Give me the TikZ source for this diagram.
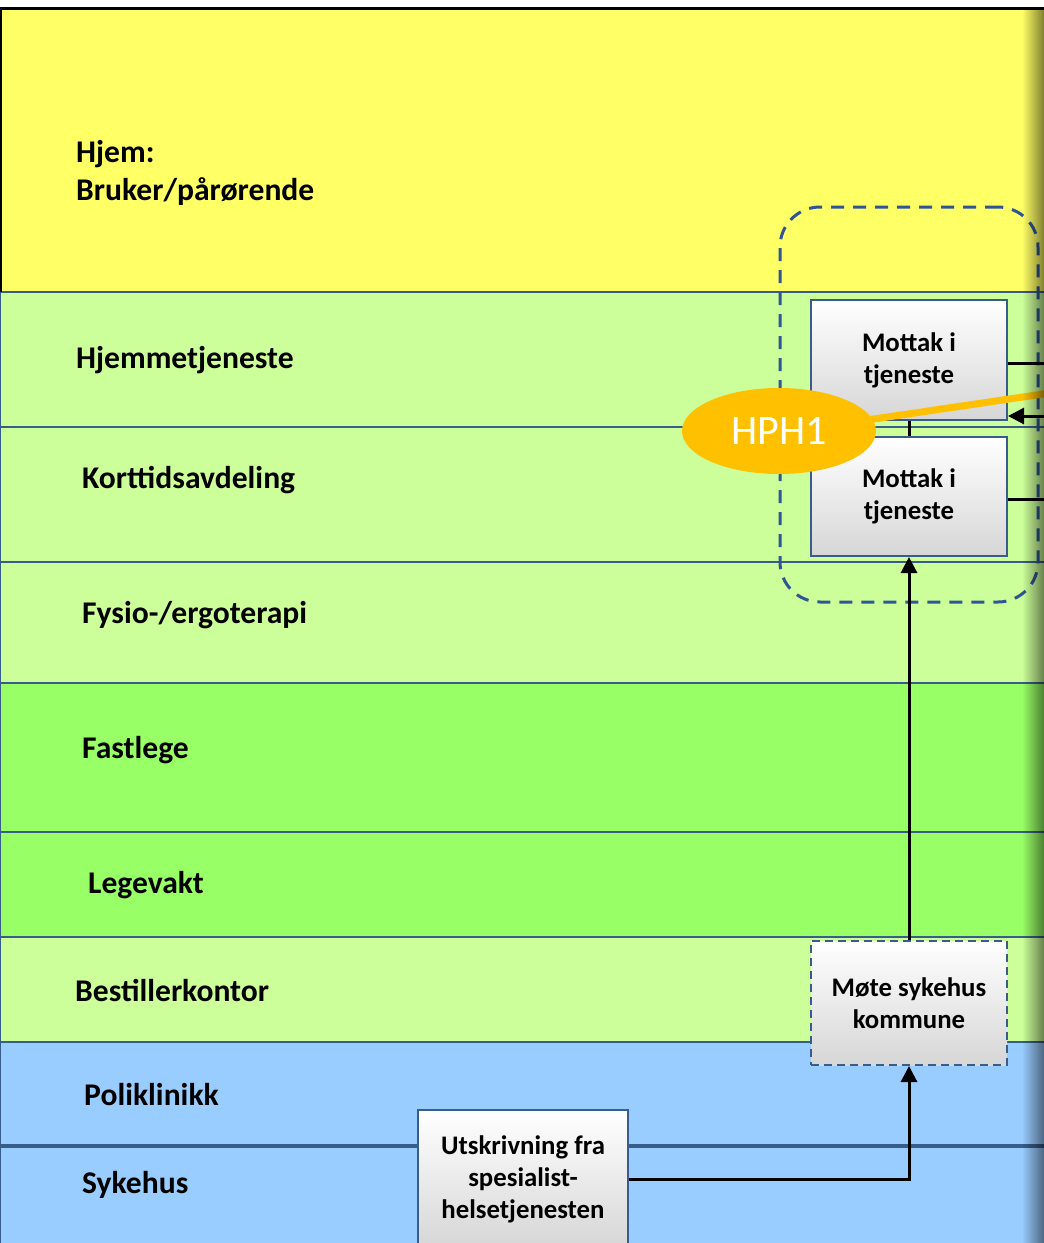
\documentclass[tikz,border=0pt]{standalone}
\usepackage{fontspec}
\setmainfont{Carlito}
\usetikzlibrary{shapes.geometric,arrows.meta,fadings}
\definecolor{yel}{HTML}{FFFF66}
\definecolor{lgreen}{HTML}{CCFF99}
\definecolor{dgreen}{HTML}{99FF66}
\definecolor{lblue}{HTML}{99CCFF}
\definecolor{lanec}{HTML}{385D8A}
\definecolor{grpc}{HTML}{2F5597}
\definecolor{gold}{HTML}{FFC000}
\tikzfading[name=fadeR, left color=transparent!100, right color=transparent!0]
\tikzset{
  lane/.style={draw=lanec, line width=2.2pt},
  lbl/.style={anchor=west, inner sep=0pt, font=\bfseries\fontsize{31.6}{38}\selectfont},
  procbox/.style={rectangle, draw=lanec, line width=2pt, top color=white, bottom color=black!16,
    minimum width=196pt, minimum height=120pt, align=center, inner sep=0pt,
    font=\bfseries\fontsize{26.8}{32}\selectfont},
  conn/.style={draw=black, line width=3pt},
  arr/.style={conn, -{Triangle[length=16pt,width=16pt]}},
}
\begin{document}
\begin{tikzpicture}[x=1pt,y=-1pt]
\useasboundingbox (0,0) rectangle (1044,1243);
\fill[white] (0,0) rectangle (1044,1243);
% lanes
\filldraw[lane, fill=yel] (0,8) rectangle (1060,292);
\filldraw[lane, fill=lgreen] (0,292) rectangle (1060,427);
\filldraw[lane, fill=lgreen] (0,427) rectangle (1060,562);
\filldraw[lane, fill=lgreen] (0,562) rectangle (1060,683);
\filldraw[lane, fill=dgreen] (0,683) rectangle (1060,832);
\filldraw[lane, fill=dgreen] (0,832) rectangle (1060,937);
\filldraw[lane, fill=lgreen] (0,937) rectangle (1060,1042);
\filldraw[lane, fill=lblue] (0,1042) rectangle (1060,1146);
\filldraw[lane, fill=lblue] (0,1146) rectangle (1060,1260);
\draw[lanec, line width=4pt] (0,1146) -- (1060,1146);
\draw[black, line width=3pt] (0,8) -- (1060,8);
\draw[black, line width=3pt] (0,8) -- (0,292);
% labels
\node[lbl, align=left] (hjem) at (76,173) {Hjem:\\Bruker/pårørende};
\node[lbl] (hjt) at (76,360) {Hjemmetjeneste};
\node[lbl] (kort) at (82,480) {Korttidsavdeling};
\node[lbl] (fys) at (82,615) {Fysio-/ergoterapi};
\node[lbl] (fast) at (82,750) {Fastlege};
\node[lbl] (lege) at (88,885) {Legevakt};
\node[lbl] (best) at (75,990) {Bestillerkontor};
\node[lbl] (poli) at (84,1095) {Poliklinikk};
\node[lbl] (syk) at (82,1185) {Sykehus};
% group
\node[draw=grpc, line width=3pt, dash pattern=on 13pt off 9pt, rounded corners=40pt,
  minimum width=258pt, minimum height=395pt, inner sep=0pt] (grp) at (909,404.5) {};
% boxes
\node[procbox] (m1) at (909,360) {Mottak i\\tjeneste};
\node[procbox, minimum height=119pt] (m2) at (909,496.5) {Mottak i\\tjeneste};
\node[procbox, dashed, dash pattern=on 8pt off 5pt, minimum height=124pt] (moete) at (909,1003) {Møte sykehus\\kommune};
\node[procbox, minimum width=210pt, minimum height=138pt] (utsk) at (523,1179) {Utskrivning fra\\spesialist-\\helsetjenesten};
% connectors
\coordinate (r1) at (1050,363);
\coordinate (r2) at (1050,416);
\coordinate (r3) at (1050,499);
\coordinate (hphend) at (1050,393);
\draw[conn] (m1.east |- r1) -- (r1);
\draw[conn] (m2.east |- r3) -- (r3);
\draw[arr] (r2) -- (m1.east |- r2);
\draw[conn] (m1.south) -- (m2.north);
\draw[arr] (moete.north) -- (m2.south);
\draw[arr] (utsk.east) -| (moete.south);
% HPH1
\draw[gold, line width=7pt] (779,433) -- (hphend);
\node[ellipse, fill=gold, minimum width=194pt, minimum height=86pt, inner sep=0pt,
  text=white, font=\fontsize{42}{44}\selectfont] (hph) at (779,431) {HPH1};
% right shadow
\fill[black, opacity=0.5, path fading=fadeR] (1022,9) rectangle (1044,1243);
\end{tikzpicture}
\end{document}
